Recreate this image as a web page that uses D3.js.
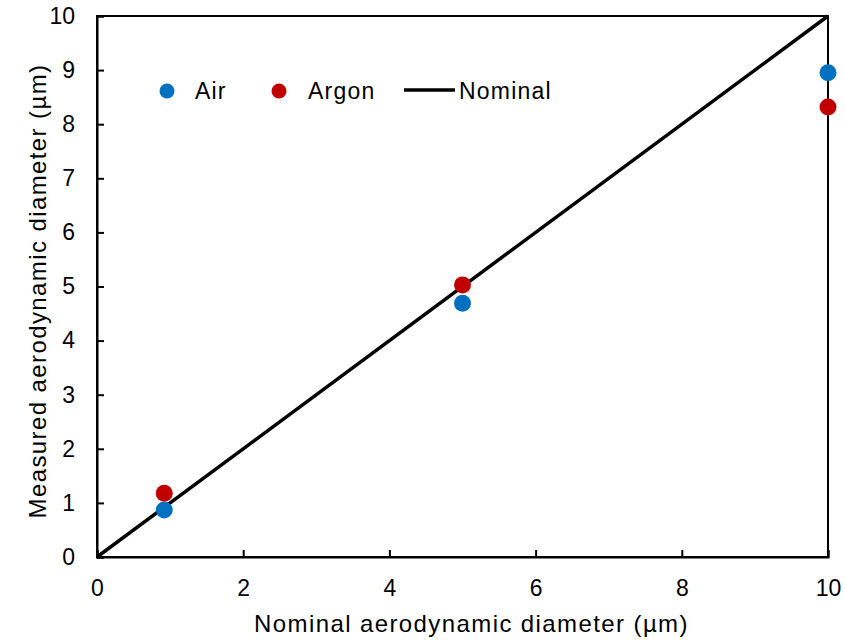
<!DOCTYPE html>
<html>
<head>
<meta charset="utf-8">
<script src="https://cdn.jsdelivr.net/npm/d3@7"></script>
<style>
  html, body { margin: 0; padding: 0; background: #fff; }
  svg { display: block; font-family: "Liberation Sans", Arial, sans-serif; }
</style>
</head>
<body>
<svg id="chart" width="845" height="640"></svg>
<script>
// Nominal vs measured aerodynamic diameter (µm)
const nominalAir = [0.92, 5.0, 10.0];
const measuredAir = [0.87, 4.69, 8.95];
const nominalArgon = [0.92, 5.0, 10.0];
const measuredArgon = [1.18, 5.03, 8.32];
const nominalLine = [0, 10];
const xTicks = [0, 2, 4, 6, 8, 10];
const yTicks = [0, 1, 2, 3, 4, 5, 6, 7, 8, 9, 10];

const svg = d3.select("#chart");
const m = { left: 97, top: 16, right: 828, bottom: 557 };

const x = d3.scaleLinear().domain([0, 10]).range([m.left, m.right]);
const y = d3.scaleLinear().domain([0, 10]).range([m.bottom, m.top]);

// frame
svg.append("rect")
  .attr("x", m.left).attr("y", m.top)
  .attr("width", m.right - m.left).attr("height", m.bottom - m.top)
  .attr("fill", "none").attr("stroke", "#000").attr("stroke-width", 2);

// axes with inward ticks
const xAxis = svg.append("g")
  .attr("transform", `translate(0,${m.bottom})`)
  .call(d3.axisBottom(x).tickValues(xTicks).tickSize(-7).tickPadding(22).tickFormat(d3.format("d")));
const yAxis = svg.append("g")
  .attr("transform", `translate(${m.left},0)`)
  .call(d3.axisLeft(y).tickValues(yTicks).tickSize(-7).tickPadding(22).tickFormat(d3.format("d")));

[xAxis, yAxis].forEach(g => {
  g.select(".domain").attr("stroke", "#000").attr("stroke-width", 2);
  g.selectAll(".tick line").attr("stroke", "#000").attr("stroke-width", 2);
  g.selectAll(".tick text").attr("fill", "#000").style("font-size", "23px")
    .style("font-family", "'Liberation Sans', Arial, sans-serif");
});
xAxis.selectAll(".tick text").attr("dy", "0.72em");

// nominal 1:1 line
svg.append("line")
  .attr("x1", x(nominalLine[0])).attr("y1", y(nominalLine[0]))
  .attr("x2", x(nominalLine[1])).attr("y2", y(nominalLine[1]))
  .attr("stroke", "#000").attr("stroke-width", 3.5);

// measured points
const air = nominalAir.map((d, i) => ({ x: d, y: measuredAir[i] }));
const argon = nominalArgon.map((d, i) => ({ x: d, y: measuredArgon[i] }));

svg.append("g").selectAll("circle").data(air).join("circle")
  .attr("cx", d => x(d.x)).attr("cy", d => y(d.y)).attr("r", 8.5)
  .attr("fill", "#0070C0");
svg.append("g").selectAll("circle").data(argon).join("circle")
  .attr("cx", d => x(d.x)).attr("cy", d => y(d.y)).attr("r", 8.5)
  .attr("fill", "#C00000");

// legend
const lg = svg.append("g").style("font-size", "23px").style("letter-spacing", "1.2px");
lg.append("circle").attr("cx", 167).attr("cy", 91).attr("r", 7.5).attr("fill", "#0070C0");
lg.append("text").attr("x", 195).attr("y", 99).text("Air");
lg.append("circle").attr("cx", 279).attr("cy", 91).attr("r", 7.5).attr("fill", "#C00000");
lg.append("text").attr("x", 308).attr("y", 99).text("Argon");
lg.append("line").attr("x1", 404).attr("x2", 455).attr("y1", 90).attr("y2", 90)
  .attr("stroke", "#000").attr("stroke-width", 3.5);
lg.append("text").attr("x", 459).attr("y", 99).text("Nominal");

// axis titles
svg.append("text")
  .attr("x", (255 + 688) / 2).attr("y", 632)
  .attr("text-anchor", "middle").style("font-size", "24px").style("letter-spacing", "1.4px")
  .text("Nominal aerodynamic diameter (µm)");
svg.append("text")
  .attr("transform", `translate(46,291) rotate(-90)`)
  .attr("text-anchor", "middle").style("font-size", "24px").style("letter-spacing", "1.4px")
  .text("Measured aerodynamic diameter (µm)");
</script>
</body>
</html>
